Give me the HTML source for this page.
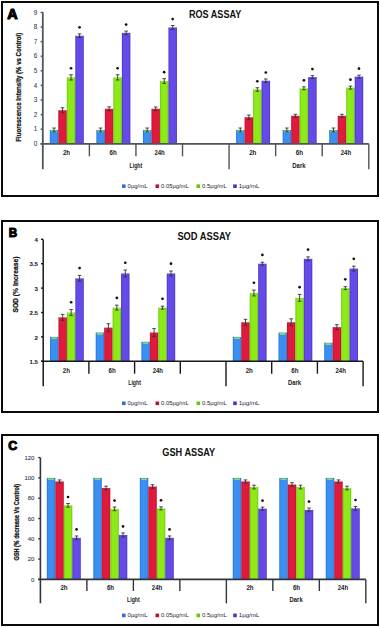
<!DOCTYPE html><html><head><meta charset="utf-8"><style>html,body{margin:0;padding:0;background:#fff;width:380px;height:627px;overflow:hidden}svg{display:block}text{font-family:"Liberation Sans",sans-serif}</style></head><body>
<svg width="380" height="627" viewBox="0 0 380 627">
<defs>
<linearGradient id="gb" x1="0" x2="1" y1="0" y2="0"><stop offset="0" stop-color="#2872d6"/><stop offset="0.18" stop-color="#3a90f2"/><stop offset="0.82" stop-color="#3a90f2"/><stop offset="1" stop-color="#2872d6"/></linearGradient>
<linearGradient id="gr" x1="0" x2="1" y1="0" y2="0"><stop offset="0" stop-color="#b81230"/><stop offset="0.18" stop-color="#e01a3c"/><stop offset="0.82" stop-color="#e01a3c"/><stop offset="1" stop-color="#b81230"/></linearGradient>
<linearGradient id="gg" x1="0" x2="1" y1="0" y2="0"><stop offset="0" stop-color="#6cc010"/><stop offset="0.18" stop-color="#8ceb16"/><stop offset="0.82" stop-color="#8ceb16"/><stop offset="1" stop-color="#6cc010"/></linearGradient>
<linearGradient id="gp" x1="0" x2="1" y1="0" y2="0"><stop offset="0" stop-color="#4a34c0"/><stop offset="0.18" stop-color="#644be8"/><stop offset="0.82" stop-color="#644be8"/><stop offset="1" stop-color="#4a34c0"/></linearGradient>
</defs>
<rect width="380" height="627" fill="#fff"/>
<rect x="49.8" y="129.93" width="8.5" height="13.87" fill="url(#gb)"/>
<rect x="51" y="130.53" width="6.1" height="1.6" rx="0.8" fill="#8ee04a"/>
<path d="M54.05 128.03V131.83M52.25 128.03H55.85 M52.25 131.83H55.85" stroke="#333" stroke-width="0.9" fill="none"/>
<rect x="58.3" y="110.22" width="8.5" height="33.58" fill="url(#gr)"/>
<path d="M62.55 107.74V112.7M60.75 107.74H64.35 M60.75 112.7H64.35" stroke="#333" stroke-width="0.9" fill="none"/>
<rect x="66.8" y="77.37" width="8.5" height="66.43" fill="url(#gg)"/>
<path d="M71.05 74.74V80M69.25 74.74H72.85 M69.25 80H72.85" stroke="#333" stroke-width="0.9" fill="none"/>
<circle cx="71.05" cy="68.24" r="1.35" fill="#111"/>
<rect x="75.3" y="35.76" width="8.5" height="108.04" fill="url(#gp)"/>
<path d="M79.55 33.86V37.66M77.75 33.86H81.35 M77.75 37.66H81.35" stroke="#333" stroke-width="0.9" fill="none"/>
<circle cx="79.55" cy="27.36" r="1.35" fill="#111"/>
<rect x="96.37" y="129.93" width="8.5" height="13.87" fill="url(#gb)"/>
<rect x="97.57" y="130.53" width="6.1" height="1.6" rx="0.8" fill="#8ee04a"/>
<path d="M100.62 128.03V131.83M98.82 128.03H102.42 M98.82 131.83H102.42" stroke="#333" stroke-width="0.9" fill="none"/>
<rect x="104.87" y="108.76" width="8.5" height="35.04" fill="url(#gr)"/>
<path d="M109.12 106.86V110.66M107.32 106.86H110.92 M107.32 110.66H110.92" stroke="#333" stroke-width="0.9" fill="none"/>
<rect x="113.37" y="77.37" width="8.5" height="66.43" fill="url(#gg)"/>
<path d="M117.62 74.74V80M115.82 74.74H119.42 M115.82 80H119.42" stroke="#333" stroke-width="0.9" fill="none"/>
<circle cx="117.62" cy="68.24" r="1.35" fill="#111"/>
<rect x="121.87" y="32.84" width="8.5" height="110.96" fill="url(#gp)"/>
<path d="M126.12 31.09V34.59M124.32 31.09H127.92 M124.32 34.59H127.92" stroke="#333" stroke-width="0.9" fill="none"/>
<circle cx="126.12" cy="24.59" r="1.35" fill="#111"/>
<rect x="142.94" y="129.93" width="8.5" height="13.87" fill="url(#gb)"/>
<rect x="144.14" y="130.53" width="6.1" height="1.6" rx="0.8" fill="#8ee04a"/>
<path d="M147.19 128.03V131.83M145.39 128.03H148.99 M145.39 131.83H148.99" stroke="#333" stroke-width="0.9" fill="none"/>
<rect x="151.44" y="108.76" width="8.5" height="35.04" fill="url(#gr)"/>
<path d="M155.69 107.01V110.51M153.89 107.01H157.49 M153.89 110.51H157.49" stroke="#333" stroke-width="0.9" fill="none"/>
<rect x="159.94" y="81.02" width="8.5" height="62.78" fill="url(#gg)"/>
<path d="M164.19 78.68V83.36M162.39 78.68H165.99 M162.39 83.36H165.99" stroke="#333" stroke-width="0.9" fill="none"/>
<circle cx="164.19" cy="72.18" r="1.35" fill="#111"/>
<rect x="168.44" y="27.44" width="8.5" height="116.36" fill="url(#gp)"/>
<path d="M172.69 25.54V29.34M170.89 25.54H174.49 M170.89 29.34H174.49" stroke="#333" stroke-width="0.9" fill="none"/>
<circle cx="172.69" cy="19.04" r="1.35" fill="#111"/>
<rect x="236.08" y="129.93" width="8.5" height="13.87" fill="url(#gb)"/>
<rect x="237.28" y="130.53" width="6.1" height="1.6" rx="0.8" fill="#8ee04a"/>
<path d="M240.33 128.03V131.83M238.53 128.03H242.13 M238.53 131.83H242.13" stroke="#333" stroke-width="0.9" fill="none"/>
<rect x="244.58" y="117.23" width="8.5" height="26.57" fill="url(#gr)"/>
<path d="M248.83 115.04V119.42M247.03 115.04H250.63 M247.03 119.42H250.63" stroke="#333" stroke-width="0.9" fill="none"/>
<rect x="253.08" y="89.49" width="8.5" height="54.31" fill="url(#gg)"/>
<path d="M257.33 87.74V91.24M255.53 87.74H259.13 M255.53 91.24H259.13" stroke="#333" stroke-width="0.9" fill="none"/>
<circle cx="257.33" cy="81.24" r="1.35" fill="#111"/>
<rect x="261.58" y="80.73" width="8.5" height="63.07" fill="url(#gp)"/>
<path d="M265.83 78.98V82.48M264.03 78.98H267.63 M264.03 82.48H267.63" stroke="#333" stroke-width="0.9" fill="none"/>
<circle cx="265.83" cy="72.48" r="1.35" fill="#111"/>
<rect x="282.65" y="129.93" width="8.5" height="13.87" fill="url(#gb)"/>
<rect x="283.85" y="130.53" width="6.1" height="1.6" rx="0.8" fill="#8ee04a"/>
<path d="M286.9 128.03V131.83M285.1 128.03H288.7 M285.1 131.83H288.7" stroke="#333" stroke-width="0.9" fill="none"/>
<rect x="291.15" y="115.77" width="8.5" height="28.03" fill="url(#gr)"/>
<path d="M295.4 114.31V117.23M293.6 114.31H297.2 M293.6 117.23H297.2" stroke="#333" stroke-width="0.9" fill="none"/>
<rect x="299.65" y="88.32" width="8.5" height="55.48" fill="url(#gg)"/>
<path d="M303.9 86.86V89.78M302.1 86.86H305.7 M302.1 89.78H305.7" stroke="#333" stroke-width="0.9" fill="none"/>
<circle cx="303.9" cy="80.36" r="1.35" fill="#111"/>
<rect x="308.15" y="77.08" width="8.5" height="66.72" fill="url(#gp)"/>
<path d="M312.4 75.62V78.54M310.6 75.62H314.2 M310.6 78.54H314.2" stroke="#333" stroke-width="0.9" fill="none"/>
<circle cx="312.4" cy="69.12" r="1.35" fill="#111"/>
<rect x="329.22" y="129.93" width="8.5" height="13.87" fill="url(#gb)"/>
<rect x="330.42" y="130.53" width="6.1" height="1.6" rx="0.8" fill="#8ee04a"/>
<path d="M333.47 128.03V131.83M331.67 128.03H335.27 M331.67 131.83H335.27" stroke="#333" stroke-width="0.9" fill="none"/>
<rect x="337.72" y="115.77" width="8.5" height="28.03" fill="url(#gr)"/>
<path d="M341.97 114.31V117.23M340.17 114.31H343.77 M340.17 117.23H343.77" stroke="#333" stroke-width="0.9" fill="none"/>
<rect x="346.22" y="87.59" width="8.5" height="56.21" fill="url(#gg)"/>
<path d="M350.47 86.13V89.05M348.67 86.13H352.27 M348.67 89.05H352.27" stroke="#333" stroke-width="0.9" fill="none"/>
<circle cx="350.47" cy="79.63" r="1.35" fill="#111"/>
<rect x="354.72" y="76.64" width="8.5" height="67.16" fill="url(#gp)"/>
<path d="M358.97 75.18V78.1M357.17 75.18H360.77 M357.17 78.1H360.77" stroke="#333" stroke-width="0.9" fill="none"/>
<circle cx="358.97" cy="68.68" r="1.35" fill="#111"/>
<path d="M42.8 12.3V169.2" stroke="#4d555c" stroke-width="1.8"/>
<path d="M40.6 143.8H368.79" stroke="#4d555c" stroke-width="1.8"/>
<path d="M40.6 143.8H42.8" stroke="#4d555c" stroke-width="1.4"/>
<text x="37.3" y="146" text-anchor="end" font-size="6.3" fill="#353b58" stroke="#353b58" stroke-width="0.08" font-weight="normal">0</text>
<path d="M40.6 129.2H42.8" stroke="#4d555c" stroke-width="1.4"/>
<text x="37.3" y="131.4" text-anchor="end" font-size="6.3" fill="#353b58" stroke="#353b58" stroke-width="0.08" font-weight="normal">1</text>
<path d="M40.6 114.6H42.8" stroke="#4d555c" stroke-width="1.4"/>
<text x="37.3" y="116.8" text-anchor="end" font-size="6.3" fill="#353b58" stroke="#353b58" stroke-width="0.08" font-weight="normal">2</text>
<path d="M40.6 100H42.8" stroke="#4d555c" stroke-width="1.4"/>
<text x="37.3" y="102.2" text-anchor="end" font-size="6.3" fill="#353b58" stroke="#353b58" stroke-width="0.08" font-weight="normal">3</text>
<path d="M40.6 85.4H42.8" stroke="#4d555c" stroke-width="1.4"/>
<text x="37.3" y="87.6" text-anchor="end" font-size="6.3" fill="#353b58" stroke="#353b58" stroke-width="0.08" font-weight="normal">4</text>
<path d="M40.6 70.8H42.8" stroke="#4d555c" stroke-width="1.4"/>
<text x="37.3" y="73" text-anchor="end" font-size="6.3" fill="#353b58" stroke="#353b58" stroke-width="0.08" font-weight="normal">5</text>
<path d="M40.6 56.2H42.8" stroke="#4d555c" stroke-width="1.4"/>
<text x="37.3" y="58.4" text-anchor="end" font-size="6.3" fill="#353b58" stroke="#353b58" stroke-width="0.08" font-weight="normal">6</text>
<path d="M40.6 41.6H42.8" stroke="#4d555c" stroke-width="1.4"/>
<text x="37.3" y="43.8" text-anchor="end" font-size="6.3" fill="#353b58" stroke="#353b58" stroke-width="0.08" font-weight="normal">7</text>
<path d="M40.6 27H42.8" stroke="#4d555c" stroke-width="1.4"/>
<text x="37.3" y="29.2" text-anchor="end" font-size="6.3" fill="#353b58" stroke="#353b58" stroke-width="0.08" font-weight="normal">8</text>
<path d="M40.6 12.4H42.8" stroke="#4d555c" stroke-width="1.4"/>
<text x="37.3" y="14.6" text-anchor="end" font-size="6.3" fill="#353b58" stroke="#353b58" stroke-width="0.08" font-weight="normal">9</text>
<path d="M89.37 143.8V156.3" stroke="#4d555c" stroke-width="1.4"/>
<path d="M135.94 143.8V156.3" stroke="#4d555c" stroke-width="1.4"/>
<path d="M182.51 143.8V156.3" stroke="#4d555c" stroke-width="1.4"/>
<path d="M229.08 143.8V169.2" stroke="#4d555c" stroke-width="1.4"/>
<path d="M275.65 143.8V156.3" stroke="#4d555c" stroke-width="1.4"/>
<path d="M322.22 143.8V156.3" stroke="#4d555c" stroke-width="1.4"/>
<path d="M368.79 143.8V169.2" stroke="#4d555c" stroke-width="1.4"/>
<text x="66.48" y="155.2" text-anchor="middle" font-size="6.7" font-weight="bold" fill="#1a1a1a" textLength="7.2" lengthAdjust="spacingAndGlyphs">2h</text>
<text x="113.06" y="155.2" text-anchor="middle" font-size="6.7" font-weight="bold" fill="#1a1a1a" textLength="7.2" lengthAdjust="spacingAndGlyphs">6h</text>
<text x="159.62" y="155.2" text-anchor="middle" font-size="6.7" font-weight="bold" fill="#1a1a1a" textLength="10.4" lengthAdjust="spacingAndGlyphs">24h</text>
<text x="252.77" y="155.2" text-anchor="middle" font-size="6.7" font-weight="bold" fill="#1a1a1a" textLength="7.2" lengthAdjust="spacingAndGlyphs">2h</text>
<text x="299.33" y="155.2" text-anchor="middle" font-size="6.7" font-weight="bold" fill="#1a1a1a" textLength="7.2" lengthAdjust="spacingAndGlyphs">6h</text>
<text x="345.9" y="155.2" text-anchor="middle" font-size="6.7" font-weight="bold" fill="#1a1a1a" textLength="10.4" lengthAdjust="spacingAndGlyphs">24h</text>
<text x="135.94" y="167.6" text-anchor="middle" font-size="6.6" font-weight="bold" fill="#1a1a1a" textLength="12.7" lengthAdjust="spacingAndGlyphs">Light</text>
<text x="298.94" y="167.6" text-anchor="middle" font-size="6.6" font-weight="bold" fill="#1a1a1a" textLength="13.2" lengthAdjust="spacingAndGlyphs">Dark</text>
<text transform="translate(21.3 87.2) rotate(-90)" text-anchor="middle" font-size="7" font-weight="bold" fill="#111" stroke="#111" stroke-width="0.25" textLength="109" lengthAdjust="spacingAndGlyphs">Fluorescence Intensity (% vs Control)</text>
<text x="189" y="17.9" font-size="10.6" font-weight="bold" fill="#111" textLength="52.2" lengthAdjust="spacingAndGlyphs">ROS ASSAY</text>
<text x="7.2" y="18.5" font-size="14" font-weight="bold" fill="#000" stroke="#000" stroke-width="1.1" stroke-linejoin="round" textLength="10.4" lengthAdjust="spacingAndGlyphs">A</text>
<rect x="122" y="184.4" width="3.6" height="3.6" fill="#2872d6"/>
<text x="127.6" y="188.2" font-size="5.8" fill="#1a1d30" textLength="19.9" lengthAdjust="spacingAndGlyphs">0µg/mL</text>
<rect x="155.5" y="184.4" width="3.6" height="3.6" fill="#b81230"/>
<text x="161.1" y="188.2" font-size="5.8" fill="#1a1d30" textLength="27.6" lengthAdjust="spacingAndGlyphs">0.05µg/mL</text>
<rect x="196.5" y="184.4" width="3.6" height="3.6" fill="#6cc010"/>
<text x="202.1" y="188.2" font-size="5.8" fill="#1a1d30" textLength="24.7" lengthAdjust="spacingAndGlyphs">0.5µg/mL</text>
<rect x="233.2" y="184.4" width="3.6" height="3.6" fill="#4a34c0"/>
<text x="238.8" y="188.2" font-size="5.8" fill="#1a1d30" textLength="20.7" lengthAdjust="spacingAndGlyphs">1µg/mL</text>
<rect x="2" y="2" width="376" height="194" fill="none" stroke="#0a0a0a" stroke-width="2"/>
<rect x="50" y="336.9" width="8.45" height="24.4" fill="url(#gb)"/>
<rect x="51.2" y="337.5" width="6.05" height="1.6" rx="0.8" fill="#8ee04a"/>
<rect x="58.45" y="317.38" width="8.45" height="43.92" fill="url(#gr)"/>
<path d="M62.68 314.45V320.31M60.88 314.45H64.48 M60.88 320.31H64.48" stroke="#333" stroke-width="0.9" fill="none"/>
<rect x="66.9" y="312.5" width="8.45" height="48.8" fill="url(#gg)"/>
<path d="M71.12 309.57V315.43M69.33 309.57H72.92 M69.33 315.43H72.92" stroke="#333" stroke-width="0.9" fill="none"/>
<circle cx="71.12" cy="302.27" r="1.35" fill="#111"/>
<rect x="75.35" y="278.34" width="8.45" height="82.96" fill="url(#gp)"/>
<path d="M79.57 275.41V281.27M77.77 275.41H81.37 M77.77 281.27H81.37" stroke="#333" stroke-width="0.9" fill="none"/>
<circle cx="79.57" cy="268.11" r="1.35" fill="#111"/>
<rect x="95.7" y="332.51" width="8.45" height="28.79" fill="url(#gb)"/>
<rect x="96.9" y="333.11" width="6.05" height="1.6" rx="0.8" fill="#8ee04a"/>
<rect x="104.15" y="327.63" width="8.45" height="33.67" fill="url(#gr)"/>
<path d="M108.38 323.72V331.53M106.58 323.72H110.17 M106.58 331.53H110.17" stroke="#333" stroke-width="0.9" fill="none"/>
<rect x="112.6" y="307.62" width="8.45" height="53.68" fill="url(#gg)"/>
<path d="M116.82 305.18V310.06M115.02 305.18H118.62 M115.02 310.06H118.62" stroke="#333" stroke-width="0.9" fill="none"/>
<circle cx="116.82" cy="297.88" r="1.35" fill="#111"/>
<rect x="121.05" y="273.46" width="8.45" height="87.84" fill="url(#gp)"/>
<path d="M125.27 270.04V276.88M123.47 270.04H127.07 M123.47 276.88H127.07" stroke="#333" stroke-width="0.9" fill="none"/>
<circle cx="125.27" cy="262.74" r="1.35" fill="#111"/>
<rect x="141.4" y="341.78" width="8.45" height="19.52" fill="url(#gb)"/>
<rect x="142.6" y="342.38" width="6.05" height="1.6" rx="0.8" fill="#8ee04a"/>
<rect x="149.85" y="332.51" width="8.45" height="28.79" fill="url(#gr)"/>
<path d="M154.08 328.6V336.41M152.28 328.6H155.88 M152.28 336.41H155.88" stroke="#333" stroke-width="0.9" fill="none"/>
<rect x="158.3" y="307.62" width="8.45" height="53.68" fill="url(#gg)"/>
<path d="M162.53 306.16V309.08M160.73 306.16H164.33 M160.73 309.08H164.33" stroke="#333" stroke-width="0.9" fill="none"/>
<circle cx="162.53" cy="298.86" r="1.35" fill="#111"/>
<rect x="166.75" y="273.46" width="8.45" height="87.84" fill="url(#gp)"/>
<path d="M170.98 271.02V275.9M169.18 271.02H172.78 M169.18 275.9H172.78" stroke="#333" stroke-width="0.9" fill="none"/>
<circle cx="170.98" cy="263.72" r="1.35" fill="#111"/>
<rect x="232.8" y="336.9" width="8.45" height="24.4" fill="url(#gb)"/>
<rect x="234" y="337.5" width="6.05" height="1.6" rx="0.8" fill="#8ee04a"/>
<rect x="241.25" y="322.26" width="8.45" height="39.04" fill="url(#gr)"/>
<path d="M245.47 319.33V325.19M243.67 319.33H247.28 M243.67 325.19H247.28" stroke="#333" stroke-width="0.9" fill="none"/>
<rect x="249.7" y="292.98" width="8.45" height="68.32" fill="url(#gg)"/>
<path d="M253.93 290.05V295.91M252.12 290.05H255.73 M252.12 295.91H255.73" stroke="#333" stroke-width="0.9" fill="none"/>
<circle cx="253.93" cy="282.75" r="1.35" fill="#111"/>
<rect x="258.15" y="263.7" width="8.45" height="97.6" fill="url(#gp)"/>
<path d="M262.38 262.24V265.16M260.58 262.24H264.18 M260.58 265.16H264.18" stroke="#333" stroke-width="0.9" fill="none"/>
<circle cx="262.38" cy="254.94" r="1.35" fill="#111"/>
<rect x="278.5" y="332.51" width="8.45" height="28.79" fill="url(#gb)"/>
<rect x="279.7" y="333.11" width="6.05" height="1.6" rx="0.8" fill="#8ee04a"/>
<rect x="286.95" y="322.26" width="8.45" height="39.04" fill="url(#gr)"/>
<path d="M291.18 318.84V325.68M289.38 318.84H292.98 M289.38 325.68H292.98" stroke="#333" stroke-width="0.9" fill="none"/>
<rect x="295.4" y="297.86" width="8.45" height="63.44" fill="url(#gg)"/>
<path d="M299.62 294.44V301.28M297.82 294.44H301.43 M297.82 301.28H301.43" stroke="#333" stroke-width="0.9" fill="none"/>
<circle cx="299.62" cy="287.14" r="1.35" fill="#111"/>
<rect x="303.85" y="258.82" width="8.45" height="102.48" fill="url(#gp)"/>
<path d="M308.08 256.87V260.77M306.28 256.87H309.88 M306.28 260.77H309.88" stroke="#333" stroke-width="0.9" fill="none"/>
<circle cx="308.08" cy="249.57" r="1.35" fill="#111"/>
<rect x="324.2" y="342.76" width="8.45" height="18.54" fill="url(#gb)"/>
<rect x="325.4" y="343.36" width="6.05" height="1.6" rx="0.8" fill="#8ee04a"/>
<rect x="332.65" y="327.14" width="8.45" height="34.16" fill="url(#gr)"/>
<path d="M336.88 324.7V329.58M335.08 324.7H338.68 M335.08 329.58H338.68" stroke="#333" stroke-width="0.9" fill="none"/>
<rect x="341.1" y="288.1" width="8.45" height="73.2" fill="url(#gg)"/>
<path d="M345.33 286.64V289.56M343.53 286.64H347.13 M343.53 289.56H347.13" stroke="#333" stroke-width="0.9" fill="none"/>
<circle cx="345.33" cy="279.34" r="1.35" fill="#111"/>
<rect x="349.55" y="268.58" width="8.45" height="92.72" fill="url(#gp)"/>
<path d="M353.78 266.14V271.02M351.98 266.14H355.58 M351.98 271.02H355.58" stroke="#333" stroke-width="0.9" fill="none"/>
<circle cx="353.78" cy="258.84" r="1.35" fill="#111"/>
<path d="M43.2 239.5V386.3" stroke="#15181c" stroke-width="1.5"/>
<path d="M41 361.3H363.1" stroke="#15181c" stroke-width="1.5"/>
<path d="M41 361.3H43.2" stroke="#15181c" stroke-width="1.4"/>
<text x="38" y="364" text-anchor="end" font-size="6.1" fill="#1a1f3a" stroke="#1a1f3a" stroke-width="0.1" font-weight="bold">1.5</text>
<path d="M41 336.9H43.2" stroke="#15181c" stroke-width="1.4"/>
<text x="38" y="339.6" text-anchor="end" font-size="6.1" fill="#1a1f3a" stroke="#1a1f3a" stroke-width="0.1" font-weight="bold">2</text>
<path d="M41 312.5H43.2" stroke="#15181c" stroke-width="1.4"/>
<text x="38" y="315.2" text-anchor="end" font-size="6.1" fill="#1a1f3a" stroke="#1a1f3a" stroke-width="0.1" font-weight="bold">2.5</text>
<path d="M41 288.1H43.2" stroke="#15181c" stroke-width="1.4"/>
<text x="38" y="290.8" text-anchor="end" font-size="6.1" fill="#1a1f3a" stroke="#1a1f3a" stroke-width="0.1" font-weight="bold">3</text>
<path d="M41 263.7H43.2" stroke="#15181c" stroke-width="1.4"/>
<text x="38" y="266.4" text-anchor="end" font-size="6.1" fill="#1a1f3a" stroke="#1a1f3a" stroke-width="0.1" font-weight="bold">3.5</text>
<path d="M41 239.3H43.2" stroke="#15181c" stroke-width="1.4"/>
<text x="38" y="242" text-anchor="end" font-size="6.1" fill="#1a1f3a" stroke="#1a1f3a" stroke-width="0.1" font-weight="bold">4</text>
<path d="M88.9 361.3V373.7" stroke="#15181c" stroke-width="1.4"/>
<path d="M134.6 361.3V373.7" stroke="#15181c" stroke-width="1.4"/>
<path d="M180.3 361.3V373.7" stroke="#15181c" stroke-width="1.4"/>
<path d="M226 361.3V386.3" stroke="#15181c" stroke-width="1.4"/>
<path d="M271.7 361.3V373.7" stroke="#15181c" stroke-width="1.4"/>
<path d="M317.4 361.3V373.7" stroke="#15181c" stroke-width="1.4"/>
<path d="M363.1 361.3V386.3" stroke="#15181c" stroke-width="1.4"/>
<text x="66.45" y="372.8" text-anchor="middle" font-size="6.7" font-weight="bold" fill="#1a1a1a" textLength="7.2" lengthAdjust="spacingAndGlyphs">2h</text>
<text x="112.15" y="372.8" text-anchor="middle" font-size="6.7" font-weight="bold" fill="#1a1a1a" textLength="7.2" lengthAdjust="spacingAndGlyphs">6h</text>
<text x="157.85" y="372.8" text-anchor="middle" font-size="6.7" font-weight="bold" fill="#1a1a1a" textLength="10.4" lengthAdjust="spacingAndGlyphs">24h</text>
<text x="249.25" y="372.8" text-anchor="middle" font-size="6.7" font-weight="bold" fill="#1a1a1a" textLength="7.2" lengthAdjust="spacingAndGlyphs">2h</text>
<text x="294.95" y="372.8" text-anchor="middle" font-size="6.7" font-weight="bold" fill="#1a1a1a" textLength="7.2" lengthAdjust="spacingAndGlyphs">6h</text>
<text x="340.65" y="372.8" text-anchor="middle" font-size="6.7" font-weight="bold" fill="#1a1a1a" textLength="10.4" lengthAdjust="spacingAndGlyphs">24h</text>
<text x="134.6" y="385.3" text-anchor="middle" font-size="6.6" font-weight="bold" fill="#1a1a1a" textLength="12.7" lengthAdjust="spacingAndGlyphs">Light</text>
<text x="294.55" y="385.3" text-anchor="middle" font-size="6.6" font-weight="bold" fill="#1a1a1a" textLength="13.2" lengthAdjust="spacingAndGlyphs">Dark</text>
<text transform="translate(18.2 284.6) rotate(-90)" text-anchor="middle" font-size="8" font-weight="bold" fill="#111" stroke="#111" stroke-width="0.25" textLength="56" lengthAdjust="spacingAndGlyphs">SOD (% Increase)</text>
<text x="177.4" y="239.7" font-size="10.5" font-weight="bold" fill="#111" textLength="53.6" lengthAdjust="spacingAndGlyphs">SOD ASSAY</text>
<text x="8.8" y="236.8" font-size="13.2" font-weight="bold" fill="#000" stroke="#000" stroke-width="1.1" stroke-linejoin="round" textLength="8.4" lengthAdjust="spacingAndGlyphs">B</text>
<rect x="122" y="401.5" width="3.6" height="3.6" fill="#2872d6"/>
<text x="127.6" y="405.3" font-size="5.8" fill="#1a1d30" textLength="19.9" lengthAdjust="spacingAndGlyphs">0µg/mL</text>
<rect x="155.5" y="401.5" width="3.6" height="3.6" fill="#b81230"/>
<text x="161.1" y="405.3" font-size="5.8" fill="#1a1d30" textLength="27.6" lengthAdjust="spacingAndGlyphs">0.05µg/mL</text>
<rect x="196.5" y="401.5" width="3.6" height="3.6" fill="#6cc010"/>
<text x="202.1" y="405.3" font-size="5.8" fill="#1a1d30" textLength="24.7" lengthAdjust="spacingAndGlyphs">0.5µg/mL</text>
<rect x="233.2" y="401.5" width="3.6" height="3.6" fill="#4a34c0"/>
<text x="238.8" y="405.3" font-size="5.8" fill="#1a1d30" textLength="20.7" lengthAdjust="spacingAndGlyphs">1µg/mL</text>
<rect x="2" y="221" width="376" height="191" fill="none" stroke="#0a0a0a" stroke-width="2"/>
<rect x="46.8" y="477.9" width="8.5" height="101.5" fill="url(#gb)"/>
<rect x="48" y="478.5" width="6.1" height="1.6" rx="0.8" fill="#8ee04a"/>
<rect x="55.3" y="481.45" width="8.5" height="97.95" fill="url(#gr)"/>
<path d="M59.55 479.93V482.97M57.75 479.93H61.35 M57.75 482.97H61.35" stroke="#333" stroke-width="0.9" fill="none"/>
<rect x="63.8" y="505.3" width="8.5" height="74.1" fill="url(#gg)"/>
<path d="M68.05 503.48V507.13M66.25 503.48H69.85 M66.25 507.13H69.85" stroke="#333" stroke-width="0.9" fill="none"/>
<circle cx="68.05" cy="496.98" r="1.35" fill="#111"/>
<rect x="72.3" y="537.78" width="8.5" height="41.62" fill="url(#gp)"/>
<path d="M76.55 535.96V539.61M74.75 535.96H78.35 M74.75 539.61H78.35" stroke="#333" stroke-width="0.9" fill="none"/>
<circle cx="76.55" cy="529.46" r="1.35" fill="#111"/>
<rect x="93.29" y="477.9" width="8.5" height="101.5" fill="url(#gb)"/>
<rect x="94.49" y="478.5" width="6.1" height="1.6" rx="0.8" fill="#8ee04a"/>
<rect x="101.79" y="488.05" width="8.5" height="91.35" fill="url(#gr)"/>
<path d="M106.04 486.22V489.88M104.24 486.22H107.84 M104.24 489.88H107.84" stroke="#333" stroke-width="0.9" fill="none"/>
<rect x="110.29" y="508.86" width="8.5" height="70.54" fill="url(#gg)"/>
<path d="M114.54 507.03V510.68M112.74 507.03H116.34 M112.74 510.68H116.34" stroke="#333" stroke-width="0.9" fill="none"/>
<circle cx="114.54" cy="500.53" r="1.35" fill="#111"/>
<rect x="118.79" y="534.94" width="8.5" height="44.46" fill="url(#gp)"/>
<path d="M123.04 532.91V536.97M121.24 532.91H124.84 M121.24 536.97H124.84" stroke="#333" stroke-width="0.9" fill="none"/>
<circle cx="123.04" cy="526.41" r="1.35" fill="#111"/>
<rect x="139.78" y="477.9" width="8.5" height="101.5" fill="url(#gb)"/>
<rect x="140.98" y="478.5" width="6.1" height="1.6" rx="0.8" fill="#8ee04a"/>
<rect x="148.28" y="486.53" width="8.5" height="92.87" fill="url(#gr)"/>
<path d="M152.53 484.7V488.35M150.73 484.7H154.33 M150.73 488.35H154.33" stroke="#333" stroke-width="0.9" fill="none"/>
<rect x="156.78" y="508.35" width="8.5" height="71.05" fill="url(#gg)"/>
<path d="M161.03 506.83V509.87M159.23 506.83H162.83 M159.23 509.87H162.83" stroke="#333" stroke-width="0.9" fill="none"/>
<circle cx="161.03" cy="500.33" r="1.35" fill="#111"/>
<rect x="165.28" y="537.78" width="8.5" height="41.62" fill="url(#gp)"/>
<path d="M169.53 535.96V539.61M167.73 535.96H171.33 M167.73 539.61H171.33" stroke="#333" stroke-width="0.9" fill="none"/>
<circle cx="169.53" cy="529.46" r="1.35" fill="#111"/>
<rect x="232.76" y="477.9" width="8.5" height="101.5" fill="url(#gb)"/>
<rect x="233.96" y="478.5" width="6.1" height="1.6" rx="0.8" fill="#8ee04a"/>
<rect x="241.26" y="481.45" width="8.5" height="97.95" fill="url(#gr)"/>
<path d="M245.51 479.93V482.97M243.71 479.93H247.31 M243.71 482.97H247.31" stroke="#333" stroke-width="0.9" fill="none"/>
<rect x="249.76" y="487.03" width="8.5" height="92.37" fill="url(#gg)"/>
<path d="M254.01 485.21V488.86M252.21 485.21H255.81 M252.21 488.86H255.81" stroke="#333" stroke-width="0.9" fill="none"/>
<rect x="258.26" y="508.65" width="8.5" height="70.75" fill="url(#gp)"/>
<path d="M262.51 507.13V510.18M260.71 507.13H264.31 M260.71 510.18H264.31" stroke="#333" stroke-width="0.9" fill="none"/>
<circle cx="262.51" cy="500.63" r="1.35" fill="#111"/>
<rect x="279.25" y="477.9" width="8.5" height="101.5" fill="url(#gb)"/>
<rect x="280.45" y="478.5" width="6.1" height="1.6" rx="0.8" fill="#8ee04a"/>
<rect x="287.75" y="484.5" width="8.5" height="94.9" fill="url(#gr)"/>
<path d="M292 482.67V486.32M290.2 482.67H293.8 M290.2 486.32H293.8" stroke="#333" stroke-width="0.9" fill="none"/>
<rect x="296.25" y="487.03" width="8.5" height="92.37" fill="url(#gg)"/>
<path d="M300.5 485.21V488.86M298.7 485.21H302.3 M298.7 488.86H302.3" stroke="#333" stroke-width="0.9" fill="none"/>
<rect x="304.75" y="509.87" width="8.5" height="69.53" fill="url(#gp)"/>
<path d="M309 508.05V511.7M307.2 508.05H310.8 M307.2 511.7H310.8" stroke="#333" stroke-width="0.9" fill="none"/>
<circle cx="309" cy="501.55" r="1.35" fill="#111"/>
<rect x="325.74" y="477.9" width="8.5" height="101.5" fill="url(#gb)"/>
<rect x="326.94" y="478.5" width="6.1" height="1.6" rx="0.8" fill="#8ee04a"/>
<rect x="334.24" y="481.45" width="8.5" height="97.95" fill="url(#gr)"/>
<path d="M338.49 479.93V482.97M336.69 479.93H340.29 M336.69 482.97H340.29" stroke="#333" stroke-width="0.9" fill="none"/>
<rect x="342.74" y="488.05" width="8.5" height="91.35" fill="url(#gg)"/>
<path d="M346.99 486.22V489.88M345.19 486.22H348.79 M345.19 489.88H348.79" stroke="#333" stroke-width="0.9" fill="none"/>
<rect x="351.24" y="508.35" width="8.5" height="71.05" fill="url(#gp)"/>
<path d="M355.49 506.52V510.18M353.69 506.52H357.29 M353.69 510.18H357.29" stroke="#333" stroke-width="0.9" fill="none"/>
<circle cx="355.49" cy="500.02" r="1.35" fill="#111"/>
<path d="M40.4 457.6V603.3" stroke="#30363c" stroke-width="1.6"/>
<path d="M38.2 579.4H365.83" stroke="#30363c" stroke-width="1.6"/>
<path d="M38.2 579.4H40.4" stroke="#30363c" stroke-width="1.4"/>
<text x="34.4" y="581.5" text-anchor="end" font-size="6.0" fill="#353b58" stroke="#353b58" stroke-width="0.1" font-weight="normal">0</text>
<path d="M38.2 559.1H40.4" stroke="#30363c" stroke-width="1.4"/>
<text x="34.4" y="561.2" text-anchor="end" font-size="6.0" fill="#353b58" stroke="#353b58" stroke-width="0.1" font-weight="normal">20</text>
<path d="M38.2 538.8H40.4" stroke="#30363c" stroke-width="1.4"/>
<text x="34.4" y="540.9" text-anchor="end" font-size="6.0" fill="#353b58" stroke="#353b58" stroke-width="0.1" font-weight="normal">40</text>
<path d="M38.2 518.5H40.4" stroke="#30363c" stroke-width="1.4"/>
<text x="34.4" y="520.6" text-anchor="end" font-size="6.0" fill="#353b58" stroke="#353b58" stroke-width="0.1" font-weight="normal">60</text>
<path d="M38.2 498.2H40.4" stroke="#30363c" stroke-width="1.4"/>
<text x="34.4" y="500.3" text-anchor="end" font-size="6.0" fill="#353b58" stroke="#353b58" stroke-width="0.1" font-weight="normal">80</text>
<path d="M38.2 477.9H40.4" stroke="#30363c" stroke-width="1.4"/>
<text x="34.4" y="480" text-anchor="end" font-size="6.0" fill="#353b58" stroke="#353b58" stroke-width="0.1" font-weight="normal">100</text>
<path d="M38.2 457.6H40.4" stroke="#30363c" stroke-width="1.4"/>
<text x="34.4" y="459.7" text-anchor="end" font-size="6.0" fill="#353b58" stroke="#353b58" stroke-width="0.1" font-weight="normal">120</text>
<path d="M86.89 579.4V591" stroke="#30363c" stroke-width="1.4"/>
<path d="M133.38 579.4V591" stroke="#30363c" stroke-width="1.4"/>
<path d="M179.87 579.4V591" stroke="#30363c" stroke-width="1.4"/>
<path d="M226.36 579.4V603.3" stroke="#30363c" stroke-width="1.4"/>
<path d="M272.85 579.4V591" stroke="#30363c" stroke-width="1.4"/>
<path d="M319.34 579.4V591" stroke="#30363c" stroke-width="1.4"/>
<path d="M365.83 579.4V603.3" stroke="#30363c" stroke-width="1.4"/>
<text x="64.05" y="590" text-anchor="middle" font-size="6.7" font-weight="bold" fill="#1a1a1a" textLength="7.2" lengthAdjust="spacingAndGlyphs">2h</text>
<text x="110.53" y="590" text-anchor="middle" font-size="6.7" font-weight="bold" fill="#1a1a1a" textLength="7.2" lengthAdjust="spacingAndGlyphs">6h</text>
<text x="157.03" y="590" text-anchor="middle" font-size="6.7" font-weight="bold" fill="#1a1a1a" textLength="10.4" lengthAdjust="spacingAndGlyphs">24h</text>
<text x="250.01" y="590" text-anchor="middle" font-size="6.7" font-weight="bold" fill="#1a1a1a" textLength="7.2" lengthAdjust="spacingAndGlyphs">2h</text>
<text x="296.5" y="590" text-anchor="middle" font-size="6.7" font-weight="bold" fill="#1a1a1a" textLength="7.2" lengthAdjust="spacingAndGlyphs">6h</text>
<text x="342.98" y="590" text-anchor="middle" font-size="6.7" font-weight="bold" fill="#1a1a1a" textLength="10.4" lengthAdjust="spacingAndGlyphs">24h</text>
<text x="133.38" y="602" text-anchor="middle" font-size="6.6" font-weight="bold" fill="#1a1a1a" textLength="12.7" lengthAdjust="spacingAndGlyphs">Light</text>
<text x="296.1" y="602" text-anchor="middle" font-size="6.6" font-weight="bold" fill="#1a1a1a" textLength="13.2" lengthAdjust="spacingAndGlyphs">Dark</text>
<text transform="translate(19.1 522.2) rotate(-90)" text-anchor="middle" font-size="6.5" font-weight="bold" fill="#111" stroke="#111" stroke-width="0.25" textLength="76.7" lengthAdjust="spacingAndGlyphs">GSH (% decrease Vs Control)</text>
<text x="162.3" y="455.8" font-size="10.6" font-weight="bold" fill="#111" textLength="52.9" lengthAdjust="spacingAndGlyphs">GSH ASSAY</text>
<text x="8.2" y="450.2" font-size="12.8" font-weight="bold" fill="#000" stroke="#000" stroke-width="1.1" stroke-linejoin="round" textLength="9" lengthAdjust="spacingAndGlyphs">C</text>
<rect x="122" y="613.6" width="3.6" height="3.6" fill="#2872d6"/>
<text x="127.6" y="617.4" font-size="5.8" fill="#1a1d30" textLength="19.9" lengthAdjust="spacingAndGlyphs">0µg/mL</text>
<rect x="155.5" y="613.6" width="3.6" height="3.6" fill="#b81230"/>
<text x="161.1" y="617.4" font-size="5.8" fill="#1a1d30" textLength="27.6" lengthAdjust="spacingAndGlyphs">0.05µg/mL</text>
<rect x="196.5" y="613.6" width="3.6" height="3.6" fill="#6cc010"/>
<text x="202.1" y="617.4" font-size="5.8" fill="#1a1d30" textLength="24.7" lengthAdjust="spacingAndGlyphs">0.5µg/mL</text>
<rect x="233.2" y="613.6" width="3.6" height="3.6" fill="#4a34c0"/>
<text x="238.8" y="617.4" font-size="5.8" fill="#1a1d30" textLength="20.7" lengthAdjust="spacingAndGlyphs">1µg/mL</text>
<rect x="2" y="435" width="376" height="190" fill="none" stroke="#0a0a0a" stroke-width="2"/>
</svg></body></html>
